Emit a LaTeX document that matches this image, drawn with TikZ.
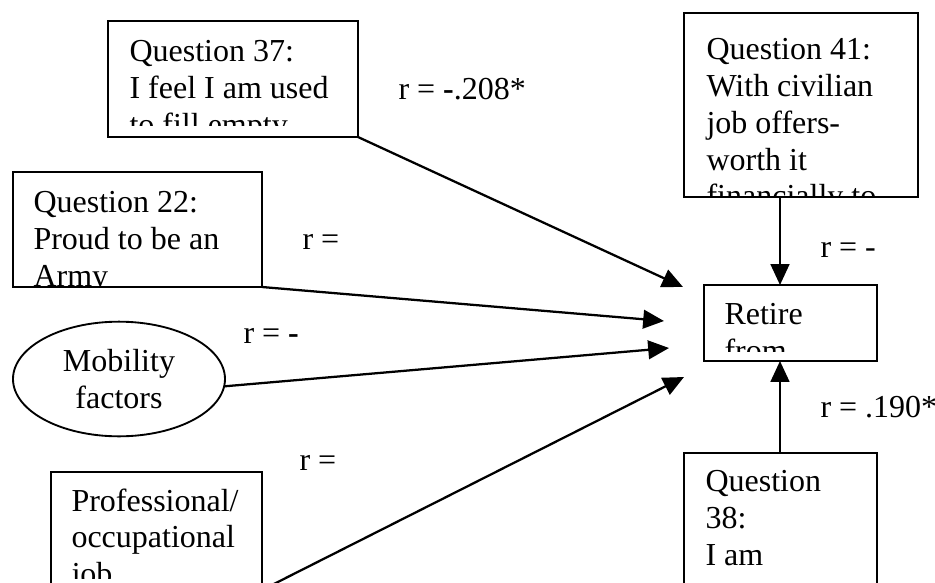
\documentclass[tikz,border=0pt]{standalone}
\usepackage{fontspec}
\setmainfont{Liberation Serif}
\usetikzlibrary{arrows.meta,shapes.geometric,fit}

\begin{document}
\begin{tikzpicture}[x=0.375pt,y=-0.375pt,
    box/.style={draw,line width=0.7pt,inner sep=0pt,outer sep=0pt},
    txt/.style={anchor=north west,inner sep=0pt,align=left,font=\fontsize{12}{13.8}\selectfont},
    lbl/.style={anchor=base west,inner sep=0pt,font=\fontsize{12}{13.8}\selectfont},
    arr/.style={line width=0.85pt,-{Triangle[length=7.8pt,width=7pt]}}]
    \useasboundingbox (0,0) rectangle (935,583);
    \clip (0,0) rectangle (935,583);

    % boxes
    \node[box,fit={(108,21) (358,137)}] (q37) {};
    \node[box,fit={(13,172) (262,287)}] (q22) {};
    \node[box,ellipse,minimum width=79.5pt,minimum height=43pt,inner sep=0pt,
          align=center,font=\fontsize{12}{13.8}\selectfont] (mob) at (119,379) {Mobility\\factors};
    \node[box,fit={(51,472) (262,590)}] (prof) {};
    \node[box,fit={(684,13) (918,197)}] (q41) {};
    \node[box,fit={(704,285) (877,361)}] (retire) {};
    \node[box,fit={(684,453) (877,600)}] (q38) {};

    % box texts, cut off at the box (top of text = baseline - 22)
    \begin{scope}
      \clip (108,21) rectangle (358,125);
      \node[txt] (t37) at (129,40) {Question 37:\\I feel I am used\\to fill empty};
    \end{scope}
    \begin{scope}
      \clip (13,172) rectangle (262,285);
      \node[txt] (t22) at (33,191) {Question 22:\\Proud to be an\\Army};
    \end{scope}
    \begin{scope}
      \clip (51,472) rectangle (262,578);
      \node[txt] (tprof) at (71,488) {Professional/\\occupational\\job};
    \end{scope}
    \begin{scope}
      \clip (684,13) rectangle (918,197);
      \node[txt] (t41) at (706,38) {Question 41:\\With civilian\\job offers-\\worth it\\financially to};
    \end{scope}
    \begin{scope}
      \clip (704,285) rectangle (877,351);
      \node[txt] (tretire) at (724,303) {Retire\\from};
    \end{scope}
    \node[txt] (t38) at (705,470) {Question\\38:\\I am};

    % correlations
    \node[lbl] (r37) at (398,99) {r = \textbf{-}.208*};
    \node[lbl] (r22) at (302,249) {r =};
    \node[lbl] (rmob) at (243,343) {r = \textbf{-}};
    \node[lbl] (rprof) at (299,470) {r =};
    \node[lbl] (r41) at (820,257) {r = -};
    \node[lbl] (r38) at (820,417) {r = .190*};

    % arrows
    \coordinate (tip37) at (683,287);
    \coordinate (tip22) at (664,321);
    \coordinate (tipmob) at (669,348);
    \coordinate (tipprof) at (684,377);
    \coordinate (vx) at (780,0);

    \draw[arr] (q37.south east) -- (tip37);
    \draw[arr] (q22.south east) -- (tip22);
    \draw[arr] (mob.-4) -- (tipmob);
    \draw[arr] (prof.south east) -- (tipprof);
    \draw[arr] (q41.south -| vx) -- (retire.north -| vx);
    \draw[arr] (q38.north -| vx) -- (retire.south -| vx);
\end{tikzpicture}
\end{document}
